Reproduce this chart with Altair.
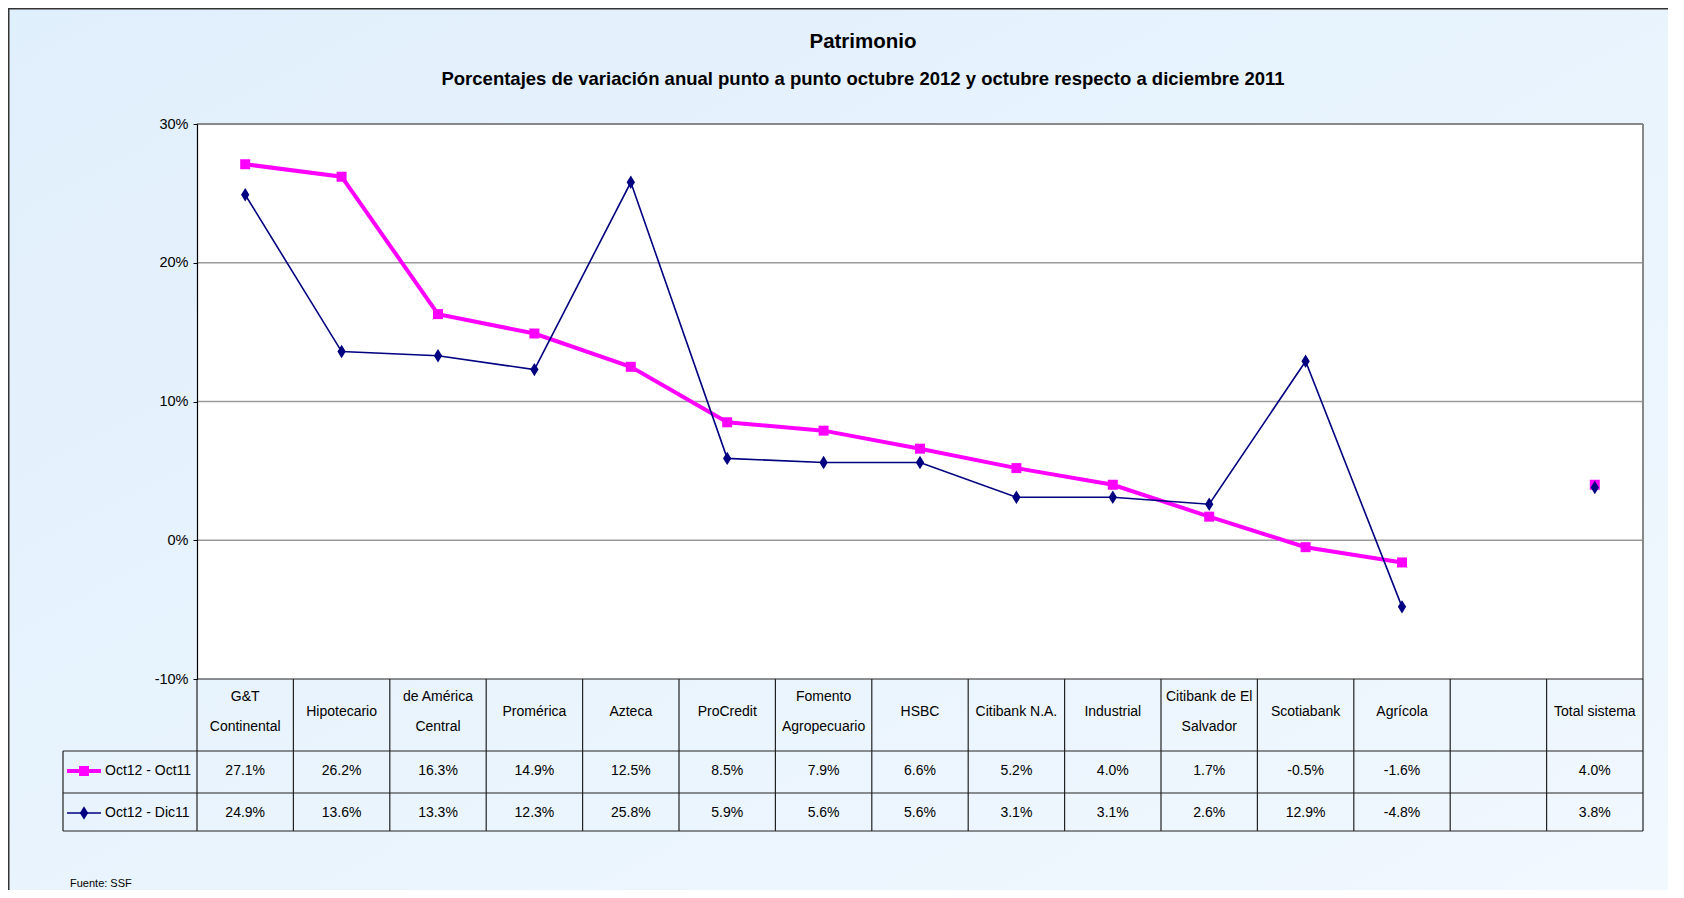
import altair as alt
import pandas as pd

categories = ["G&T\nContinental", "Hipotecario", "de América\nCentral", "Promérica", "Azteca",
              "ProCredit", "Fomento\nAgropecuario", "HSBC", "Citibank N.A.", "Industrial",
              "Citibank de El\nSalvador", "Scotiabank", "Agrícola", " ", "Total sistema"]
banks = categories[:13]
oct_oct = [27.1, 26.2, 16.3, 14.9, 12.5, 8.5, 7.9, 6.6, 5.2, 4.0, 1.7, -0.5, -1.6]
oct_dic = [24.9, 13.6, 13.3, 12.3, 25.8, 5.9, 5.6, 5.6, 3.1, 3.1, 2.6, 12.9, -4.8]
total_cat = "Total sistema"
total_oct_oct = 4.0
total_oct_dic = 3.8
series_names = ["Oct12 - Oct11", "Oct12 - Dic11"]
y_ticks = [-10, 0, 10, 20, 30]
grid_vals = [0, 10, 20]

W, H = 1446, 555
PL, PT, PR, PB = 189, 116, 25, 211
FONT = "Liberation Sans, Arial, sans-serif"
PINK = "#FF00FF"
NAVY = "#000080"
DIAMOND = "M0,-1L0.62,0L0,1L-0.62,0Z"
SQ_SIZE = 100
DM_SIZE = 180

xs = alt.X("cat:N", scale=alt.Scale(domain=categories, type="point", padding=0.5), axis=None)
ys = alt.Scale(domain=[-10, 30], nice=False, zero=False)

line1 = pd.DataFrame({"cat": banks, "v": oct_oct})
line2 = pd.DataFrame({"cat": banks, "v": oct_dic})
pts1 = pd.DataFrame({"cat": banks + [total_cat], "v": oct_oct + [total_oct_oct]})
pts2 = pd.DataFrame({"cat": banks + [total_cat], "v": oct_dic + [total_oct_dic]})


def fmt(v):
    return f"{v:.1f}%"


HEAD_Y, R1_Y, R2_Y, LH = 588, 647, 689, 30

# header: one text item per line, centred vertically in the header cell
head_rows = []
for c in categories:
    parts = c.split("\n")
    n = len(parts)
    for i, p in enumerate(parts):
        head_rows.append({"cat": c, "label": p, "y": HEAD_Y - (n - 1) * LH / 2 + i * LH})
head_df = pd.DataFrame(head_rows)
r1_df = pd.DataFrame({"cat": banks + [total_cat], "label": [fmt(v) for v in oct_oct + [total_oct_oct]]})
r2_df = pd.DataFrame({"cat": banks + [total_cat], "label": [fmt(v) for v in oct_dic + [total_oct_dic]]})

dummy = pd.DataFrame({"a": [0]})

# background gradient and white plot area
bg = alt.Chart(dummy).mark_rect(
    fill=alt.Gradient(gradient="linear", x1=0, y1=0, x2=1, y2=1,
                      stops=[alt.GradientStop(color="#E0EFFC", offset=0),
                             alt.GradientStop(color="#F1F8FE", offset=1)])
).encode(x=alt.value(-PL), x2=alt.value(W + PR), y=alt.value(-PT), y2=alt.value(H + PB))
plotbg = alt.Chart(dummy).mark_rect(fill="white").encode(
    x=alt.value(0), x2=alt.value(W), y=alt.value(0), y2=alt.value(H))

grid = alt.Chart(pd.DataFrame({"g": grid_vals})).mark_rule(color="#9A9A9A", strokeWidth=1.6).encode(
    y=alt.Y("g:Q", scale=ys), x=alt.value(0), x2=alt.value(W))

# axis (no grid), drawn above the background layers
base = alt.Chart(line1).mark_line(opacity=0).encode(
    x=xs,
    y=alt.Y("v:Q", scale=ys, axis=alt.Axis(
        values=y_ticks, title=None, labelExpr="datum.value + '%'",
        labelFont=FONT, labelFontSize=14.5, labelColor="#000", labelPadding=5,
        tickColor="#000", tickSize=4, domainColor="#000", domainWidth=1.2,
        grid=False, zindex=1)),
)

l1 = alt.Chart(line1).mark_line(color=PINK, strokeWidth=4).encode(x=xs, y=alt.Y("v:Q", scale=ys))
p1 = alt.Chart(pts1).mark_point(shape="square", filled=True, color=PINK, size=SQ_SIZE, opacity=1).encode(
    x=xs, y=alt.Y("v:Q", scale=ys))
l2 = alt.Chart(line2).mark_line(color=NAVY, strokeWidth=1.6).encode(x=xs, y=alt.Y("v:Q", scale=ys))
p2 = alt.Chart(pts2).mark_point(shape=DIAMOND, filled=True, color=NAVY, size=DM_SIZE, opacity=1).encode(
    x=xs, y=alt.Y("v:Q", scale=ys))

# plot frame: top/right gray
frame_top = alt.Chart(dummy).mark_rule(color="#888", strokeWidth=2).encode(
    x=alt.value(0), x2=alt.value(W), y=alt.value(0))
frame_right = alt.Chart(dummy).mark_rule(color="#888", strokeWidth=2).encode(
    x=alt.value(W), y=alt.value(0), y2=alt.value(H))

# table grid
step = W / len(categories)
hlines = pd.DataFrame({
    "x1": [0, -134, -134, -134],
    "x2": [W, W, W, W],
    "y": [H, 627, 669, 707],
})
vlines = pd.DataFrame({
    "x": [i * step for i in range(len(categories) + 1)] + [-134],
    "y1": [H] * (len(categories) + 1) + [627],
    "y2": [707] * (len(categories) + 2),
})
hrule = alt.Chart(hlines).mark_rule(color="#222", strokeWidth=1.2).encode(
    x=alt.X("x1:Q", scale=None), x2="x2:Q", y=alt.Y("y:Q", scale=None))
vrule = alt.Chart(vlines).mark_rule(color="#222", strokeWidth=1.2).encode(
    x=alt.X("x:Q", scale=None), y=alt.Y("y1:Q", scale=None), y2="y2:Q")

TS = 14
head = alt.Chart(head_df).mark_text(font=FONT, fontSize=TS, baseline="middle", color="#000").encode(
    x=xs, y=alt.Y("y:Q", scale=None), text="label:N")
r1 = alt.Chart(r1_df).mark_text(font=FONT, fontSize=TS, baseline="middle", color="#000").encode(
    x=xs, y=alt.value(R1_Y), text="label:N")
r2 = alt.Chart(r2_df).mark_text(font=FONT, fontSize=TS, baseline="middle", color="#000").encode(
    x=xs, y=alt.value(R2_Y), text="label:N")

# legend keys in the table
leg_df = pd.DataFrame({"name": series_names, "y": [R1_Y, R2_Y]})
legtext = alt.Chart(leg_df).mark_text(font=FONT, fontSize=TS, align="left", baseline="middle", color="#000").encode(
    x=alt.value(-92), y=alt.Y("y:Q", scale=None), text="name:N")
k1 = alt.Chart(dummy).mark_rule(color=PINK, strokeWidth=4).encode(
    x=alt.value(-130), x2=alt.value(-96), y=alt.value(R1_Y))
k1p = alt.Chart(dummy).mark_point(shape="square", filled=True, color=PINK, size=SQ_SIZE, opacity=1).encode(
    x=alt.value(-113), y=alt.value(R1_Y))
k2 = alt.Chart(dummy).mark_rule(color=NAVY, strokeWidth=1.6).encode(
    x=alt.value(-130), x2=alt.value(-96), y=alt.value(R2_Y))
k2p = alt.Chart(dummy).mark_point(shape=DIAMOND, filled=True, color=NAVY, size=DM_SIZE, opacity=1).encode(
    x=alt.value(-113), y=alt.value(R2_Y))

# titles
t1 = alt.Chart(dummy).mark_text(font=FONT, fontSize=20.5, fontWeight="bold", color="#000",
                                baseline="alphabetic").encode(
    x=alt.value(666), y=alt.value(-76), text=alt.value("Patrimonio"))
t2 = alt.Chart(dummy).mark_text(font=FONT, fontSize=18.5, fontWeight="bold", color="#000",
                                baseline="alphabetic").encode(
    x=alt.value(666), y=alt.value(-39),
    text=alt.value("Porcentajes de variación anual punto a punto octubre 2012 y octubre respecto a diciembre 2011"))
src = alt.Chart(dummy).mark_text(font=FONT, fontSize=11, align="left", baseline="alphabetic", color="#000").encode(
    x=alt.value(-127), y=alt.value(H + PB - 3), text=alt.value("Fuente: SSF"))

# outer frame (top and left edges)
fr1 = alt.Chart(dummy).mark_rule(color="#333", strokeWidth=2).encode(
    x=alt.value(-PL), x2=alt.value(W + PR), y=alt.value(-PT + 0.5))
fr2 = alt.Chart(dummy).mark_rule(color="#333", strokeWidth=2).encode(
    x=alt.value(-PL + 0.5), y=alt.value(-PT), y2=alt.value(H + PB))

chart = alt.layer(
    bg, plotbg, grid, frame_top, frame_right, base, l1, p1, l2, p2, hrule, vrule, head, r1, r2,
    legtext, k1, k1p, k2, k2p, t1, t2, src, fr1, fr2
).properties(
    width=W, height=H,
    autosize=alt.AutoSizeParams(type="none"),
    padding={"left": PL, "top": PT, "right": PR, "bottom": PB},
    background="#E5F2FC",
).configure_view(stroke=None)

chart.save("out.html", embed_options={"renderer": "svg", "actions": False})
